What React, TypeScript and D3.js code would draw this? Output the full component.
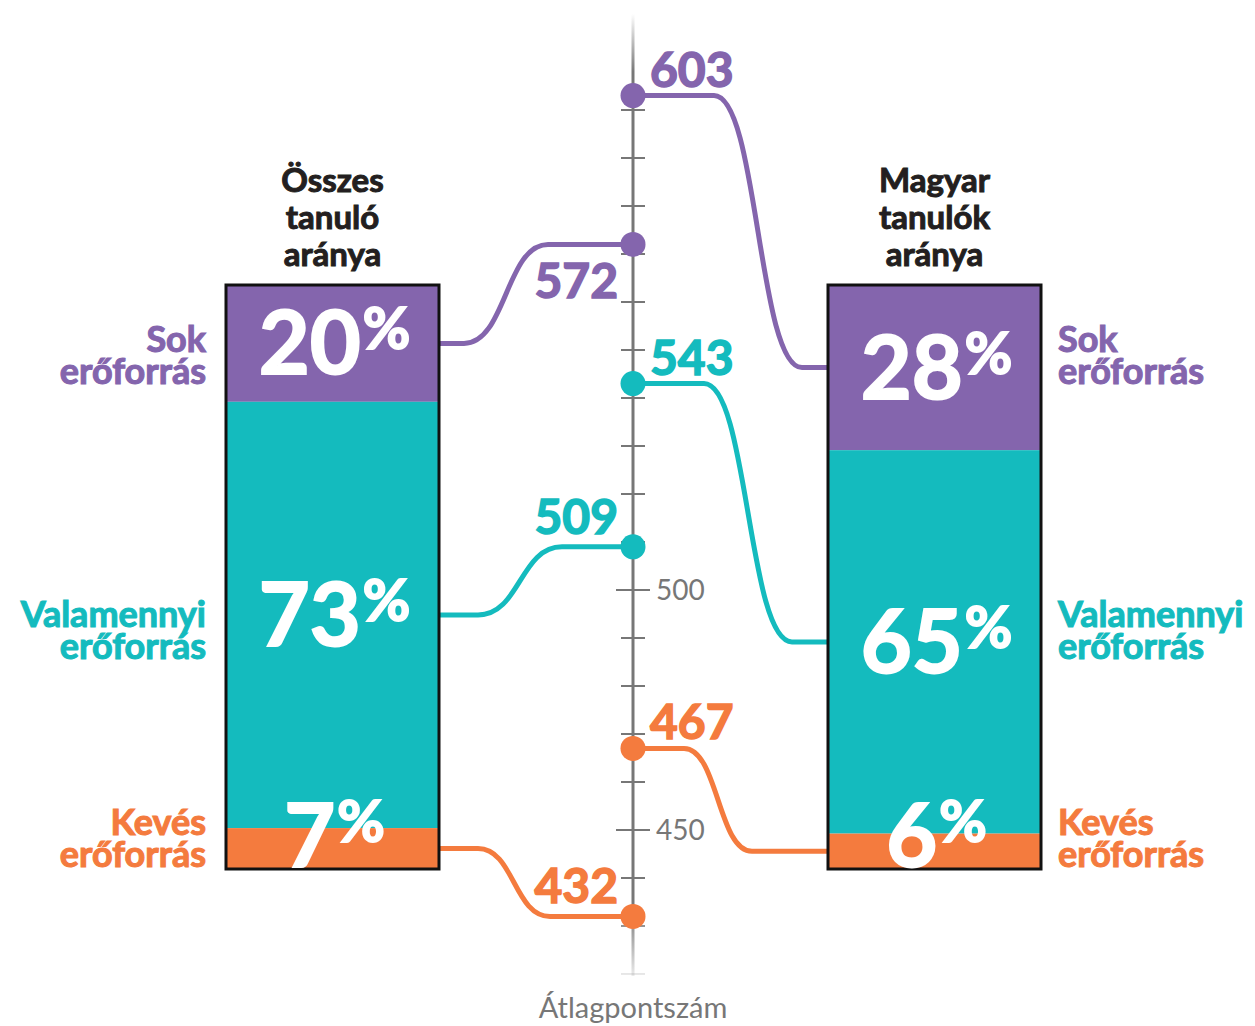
import React from 'react'
import * as d3 from 'd3'

// data
const categories = [['Sok', 'erőforrás'], ['Valamennyi', 'erőforrás'], ['Kevés', 'erőforrás']]
const groupTitles = [['Összes', 'tanuló', 'aránya'], ['Magyar', 'tanulók', 'aránya']]
const shareAll = [20, 73, 7]
const shareHu = [28, 65, 6]
const scoreAll = [572, 509, 432]
const scoreHu = [603, 543, 467]
const tickValues = d3.range(420, 601, 10)
const labeledTicks = [450, 500]
const axisTitle = 'Átlagpontszám'

const COLORS = ['#8465ad', '#14bbbe', '#f47b3e']
const GREY = '#777777'
const FONT = 'Lato, "Open Sans", sans-serif'

const W = 1255
const H = 1026
const AXIS_X = 633
const BAR_W = 213
const BAR_TOP = 285
const BAR_BOTTOM = 869
const LEFT_BAR_X = 226
const RIGHT_BAR_X = 828

// where the S-bend of each connector sits (center x, half width)
const leftBends = [[506, 42], [520, 42], [514, 36]]
const rightBends = [[758, 44], [748, 44], [718, 34]]
// left value labels: true = under the line
const leftLabelBelow = [true, false, false]

function connector(x0: number, y0: number, x1: number, y1: number, xc: number, hw: number) {
    const p = d3.path()
    const dir = x1 > x0 ? 1 : -1
    p.moveTo(x0, y0)
    p.lineTo(xc - dir * hw, y0)
    p.bezierCurveTo(xc, y0, xc, y1, xc + dir * hw, y1)
    p.lineTo(x1, y1)
    return p.toString()
}

function stackShares(shares: number[]) {
    const total = d3.sum(shares)
    const y = d3.scaleLinear().domain([0, total]).range([BAR_TOP, BAR_BOTTOM])
    let acc = 0
    return shares.map((v) => {
        const y0 = y(acc)
        acc += v
        const y1 = y(acc)
        return { v, y0, y1, mid: (y0 + y1) / 2 }
    })
}

// heavier look: fill plus a thin stroke of the same colour
const bold = (color: string, w = 1.2) => ({
    fill: color,
    stroke: color,
    strokeWidth: w,
    fontFamily: FONT,
    fontWeight: 700,
})

const PctLabel: React.FC<{ x: number; y: number; v: number }> = ({ x, y, v }) => (
    <text x={x} y={y} textAnchor="middle" {...bold('#fff', 2)} fontSize={88}>
        {v}
        <tspan fontSize={58} dy={-25} dx={2}>%</tspan>
    </text>
)

export default function App() {
    const yScore = d3.scaleLinear().domain([450, 500]).range([830, 590])
    const left = stackShares(shareAll)
    const right = stackShares(shareHu)

    const pctBaseline = (s: { y0: number; y1: number; mid: number }) =>
        s.y1 - s.y0 < 60 ? BAR_BOTTOM - 2 : s.mid + 31

    // category labels sit at the same height on both sides
    const catY = left.map((s, i) => (i === 0 ? BAR_TOP + 67 : i === 1 ? s.mid + 12 : BAR_BOTTOM - 34))

    return (
        <svg width={W} height={H} style={{ position: 'absolute', left: 0, top: 0 }}>
            <defs>
                <linearGradient id="axisFade" gradientUnits="userSpaceOnUse" x1={0} y1={yScore(620)} x2={0} y2={yScore(420) + 2}>
                    <stop offset="0" stopColor={GREY} stopOpacity={0} />
                    <stop offset="0.06" stopColor={GREY} stopOpacity={1} />
                    <stop offset="0.93" stopColor={GREY} stopOpacity={1} />
                    <stop offset="1" stopColor={GREY} stopOpacity={0.15} />
                </linearGradient>
            </defs>
            <rect width={W} height={H} fill="#fff" />

            {/* axis */}
            <line x1={AXIS_X} x2={AXIS_X} y1={yScore(620)} y2={yScore(420) + 2} stroke="url(#axisFade)" strokeWidth={3} />
            {tickValues.map((t) => {
                const major = labeledTicks.includes(t)
                return (
                    <g key={t}>
                        <rect
                            x={AXIS_X - (major ? 17 : 12)}
                            y={yScore(t) - 1}
                            width={major ? 34 : 24}
                            height={2}
                            fill="url(#axisFade)"
                        />
                        {major && (
                            <text x={AXIS_X + 23} y={yScore(t) + 10} fill={GREY} fontFamily={FONT} fontSize={28}>
                                {t}
                            </text>
                        )}
                    </g>
                )
            })}
            <text x={AXIS_X} y={1018} textAnchor="middle" fill={GREY} fontFamily={FONT} fontSize={29}>
                {axisTitle}
            </text>

            {/* connectors */}
            {left.map((s, i) => (
                <path
                    key={'lc' + i}
                    d={connector(LEFT_BAR_X + BAR_W, s.mid, AXIS_X, yScore(scoreAll[i]), leftBends[i][0], leftBends[i][1])}
                    fill="none"
                    stroke={COLORS[i]}
                    strokeWidth={5}
                />
            ))}
            {right.map((s, i) => (
                <path
                    key={'rc' + i}
                    d={connector(AXIS_X, yScore(scoreHu[i]), RIGHT_BAR_X, s.mid, rightBends[i][0], rightBends[i][1])}
                    fill="none"
                    stroke={COLORS[i]}
                    strokeWidth={5}
                />
            ))}
            {scoreAll.concat(scoreHu).map((v, i) => (
                <circle key={'d' + i} cx={AXIS_X} cy={yScore(v)} r={12.5} fill={COLORS[i % 3]} />
            ))}

            {/* score values */}
            {scoreAll.map((v, i) => (
                <text
                    key={'lv' + i}
                    x={AXIS_X - 15}
                    y={leftLabelBelow[i] ? yScore(v) + 54 : yScore(v) - 13}
                    textAnchor="end"
                    {...bold(COLORS[i], 1.5)}
                    fontSize={48}
                >
                    {v}
                </text>
            ))}
            {scoreHu.map((v, i) => (
                <text key={'rv' + i} x={AXIS_X + 17} y={yScore(v) - 9} {...bold(COLORS[i], 1.5)} fontSize={48}>
                    {v}
                </text>
            ))}

            {/* bars */}
            {[
                { x: LEFT_BAR_X, segs: left },
                { x: RIGHT_BAR_X, segs: right },
            ].map((b, bi) => (
                <g key={'bar' + bi}>
                    {b.segs.map((s, i) => (
                        <rect key={i} x={b.x} y={s.y0} width={BAR_W} height={s.y1 - s.y0} fill={COLORS[i]} />
                    ))}
                    <rect x={b.x} y={BAR_TOP} width={BAR_W} height={BAR_BOTTOM - BAR_TOP} fill="none" stroke="#111" strokeWidth={3} />
                    {b.segs.map((s, i) => (
                        <PctLabel key={'p' + i} x={b.x + BAR_W / 2 + 2} y={pctBaseline(s)} v={s.v} />
                    ))}
                    <text textAnchor="middle" {...bold('#231f20', 1)} fontSize={33}>
                        {groupTitles[bi].map((line, li) => (
                            <tspan key={li} x={b.x + BAR_W / 2} y={192 + li * 37}>
                                {line}
                            </tspan>
                        ))}
                    </text>
                    {categories.map((lines, i) => {
                        const isLeft = bi === 0
                        return (
                            <text key={'c' + i} textAnchor={isLeft ? 'end' : 'start'} {...bold(COLORS[i], 1.1)} fontSize={36}>
                                {lines.map((line, li) => (
                                    <tspan key={li} x={isLeft ? b.x - 20 : b.x + BAR_W + 17} y={catY[i] + li * 32}>
                                        {line}
                                    </tspan>
                                ))}
                            </text>
                        )
                    })}
                </g>
            ))}
        </svg>
    )
}
